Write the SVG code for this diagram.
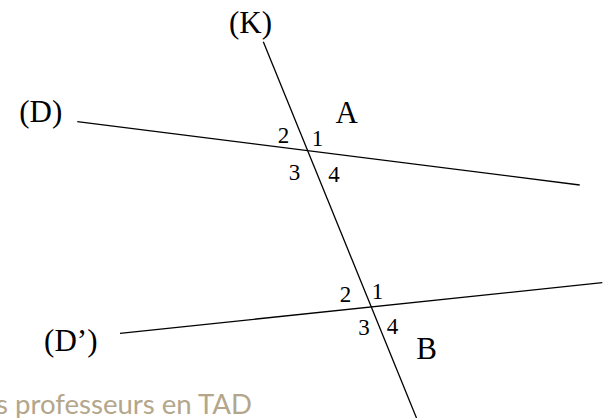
<svg xmlns="http://www.w3.org/2000/svg" width="609" height="418" viewBox="0 0 609 418">
  <style>
    .ln { stroke: #000; stroke-width: 1.3; fill: none; }
    .lbl { font-family: "Liberation Serif", "Times New Roman", serif; font-size: 31px; fill: #000; text-anchor: middle; }
    .num { font-family: "Liberation Serif", "Times New Roman", serif; font-size: 23px; fill: #000; text-anchor: middle; }
    .wm { font-family: Lato, "Open Sans", sans-serif; font-size: 27px; fill: #b3a68b; }
  </style>
  <rect width="609" height="418" fill="#fff"/>
  <g id="watermark">
    <text class="wm" x="-4" y="414" textLength="256" lengthAdjust="spacingAndGlyphs">s professeurs en TAD</text>
  </g>
  <g id="connectors">
    <line id="lineK" class="ln" x1="263.3" y1="41.7" x2="416.5" y2="418"/>
    <line id="lineD" class="ln" x1="77.3" y1="121.7" x2="579.7" y2="185"/>
    <line id="lineDp" class="ln" x1="120" y1="333.3" x2="602.3" y2="282.7"/>
  </g>
  <g id="labelK"><text class="lbl" x="250.5" y="33">(K)</text></g>
  <g id="labelD"><text class="lbl" x="40.8" y="122">(D)</text></g>
  <g id="labelDp"><text class="lbl" x="70.8" y="350.5">(D’)</text></g>
  <g id="pointA">
    <text class="lbl" x="346.7" y="123.3">A</text>
    <text class="num" x="283.5" y="142.5">2</text>
    <text class="num" x="317.5" y="145.7">1</text>
    <text class="num" x="294.5" y="180">3</text>
    <text class="num" x="334" y="181.7">4</text>
  </g>
  <g id="pointB">
    <text class="lbl" x="426.7" y="359">B</text>
    <text class="num" x="345.5" y="302.3">2</text>
    <text class="num" x="377.5" y="299.3">1</text>
    <text class="num" x="364" y="335">3</text>
    <text class="num" x="392.5" y="334">4</text>
  </g>
</svg>
